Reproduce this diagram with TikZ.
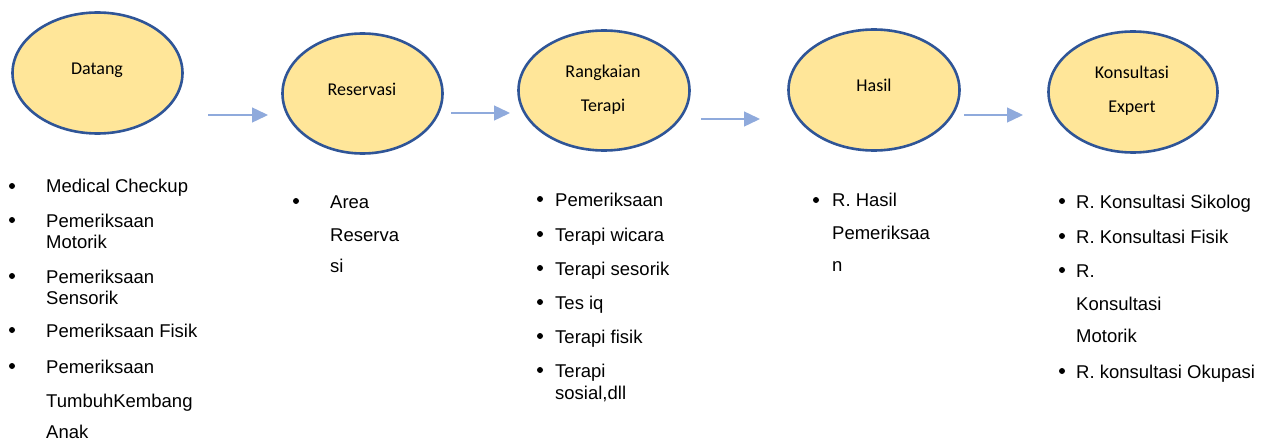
\documentclass[tikz,border=0pt]{standalone}
\usepackage{fontspec}
\usetikzlibrary{shapes.geometric, arrows.meta}
\newfontfamily\listfont{Liberation Sans}
\newfontfamily\stepfont{Carlito}
\definecolor{stepfill}{HTML}{FFE699}
\definecolor{stepline}{HTML}{2F5597}
\definecolor{flowarrow}{HTML}{8FAADC}
\newcommand{\bulletitem}[5]{
\node[dot] (#1dot) at (#2, #4 - 7) {};
\node[listline] (#1) at (#3, #4) {#5};
}
\newcommand{\flowarrow}[4]{
\coordinate (#1s) at (#2, #4);
\coordinate (#1e) at (#3, #4);
\draw[flow] (#1s) -- (#1e);
}

\begin{document}
\begin{tikzpicture}[x=1pt, y=-1pt,
% process steps
stepnode/.style={ellipse, draw=stepline, fill=stepfill, line width=2.6pt, inner sep=0},
steplabel/.style={anchor=base, inner sep=0, font=\stepfont\fontsize{18}{21}\selectfont},
% lists below the steps
listline/.style={anchor=base west, inner sep=0, font=\listfont\fontsize{18.5}{22}\selectfont},
dot/.style={circle, fill=black, minimum size=6pt, inner sep=0},
% arrows between steps
flow/.style={draw=flowarrow, line width=1.4pt, -{Triangle[length=16pt, width=15pt]}}
]

\useasboundingbox (0,0) rectangle (1272,441);

% steps
\node[stepnode, minimum width=170pt, minimum height=121pt] (datang) at (97.5,73) {};
\node[stepnode, minimum width=160pt, minimum height=120pt] (reservasi) at (362.5,93.5) {};
\node[stepnode, minimum width=171pt, minimum height=120pt] (terapi) at (604,90.5) {};
\node[stepnode, minimum width=171pt, minimum height=121pt] (hasil) at (874,90) {};
\node[stepnode, minimum width=169pt, minimum height=121pt] (konsultasi) at (1133,92) {};

\node[steplabel] (datanglbl) at (97,75) {Datang};
\node[steplabel] (reservasilbl) at (362,96) {Reservasi};
\node[steplabel] (terapilbla) at (603,78) {Rangkaian};
\node[steplabel] (terapilblb) at (603,112) {Terapi};
\node[steplabel] (hasillbl) at (874,92) {Hasil};
\node[steplabel] (konsultasilbla) at (1132,79) {Konsultasi};
\node[steplabel] (konsultasilblb) at (1132,113) {Expert};

% arrows
\flowarrow{a1}{208}{268}{115}
\flowarrow{a2}{451}{510}{113}
\flowarrow{a3}{701}{760}{119}
\flowarrow{a4}{964}{1023}{115}

% list 1
\bulletitem{l1a}{12}{46}{193}{Medical Checkup}
\bulletitem{l1b}{12}{46}{227}{Pemeriksaan}
\node[listline] (l1b2) at (46,248) {Motorik};
\bulletitem{l1c}{12}{46}{283}{Pemeriksaan}
\node[listline] (l1c2) at (46,304) {Sensorik};
\bulletitem{l1d}{12}{46}{337}{Pemeriksaan Fisik}
\bulletitem{l1e}{12}{46}{373}{Pemeriksaan}
\node[listline] (l1e2) at (46,407) {TumbuhKembang};
\node[listline] (l1e3) at (46,438) {Anak};

% list 2
\bulletitem{l2a}{296}{330}{208}{Area}
\node[listline] (l2a2) at (330,241) {Reserva};
\node[listline] (l2a3) at (330,272) {si};

% list 3
\bulletitem{l3a}{540}{555}{206}{Pemeriksaan}
\bulletitem{l3b}{540}{555}{241}{Terapi wicara}
\bulletitem{l3c}{540}{555}{275}{Terapi sesorik}
\bulletitem{l3d}{540}{555}{309}{Tes iq}
\bulletitem{l3e}{540}{555}{343}{Terapi fisik}
\bulletitem{l3f}{540}{555}{377}{Terapi}
\node[listline] (l3f2) at (555,399) {sosial,dll};

% list 4
\bulletitem{l4a}{816}{832}{207}{R. Hasil}
\node[listline] (l4a2) at (832,239) {Pemeriksaa};
\node[listline] (l4a3) at (832,271) {n};

% list 5
\bulletitem{l5a}{1062}{1076}{208}{R. Konsultasi Sikolog}
\bulletitem{l5b}{1062}{1076}{243}{R. Konsultasi Fisik}
\bulletitem{l5c}{1062}{1076}{277}{R.}
\node[listline] (l5c2) at (1076,310) {Konsultasi};
\node[listline] (l5c3) at (1076,342) {Motorik};
\bulletitem{l5d}{1062}{1076}{378}{R. konsultasi Okupasi}

\end{tikzpicture}
\end{document}
